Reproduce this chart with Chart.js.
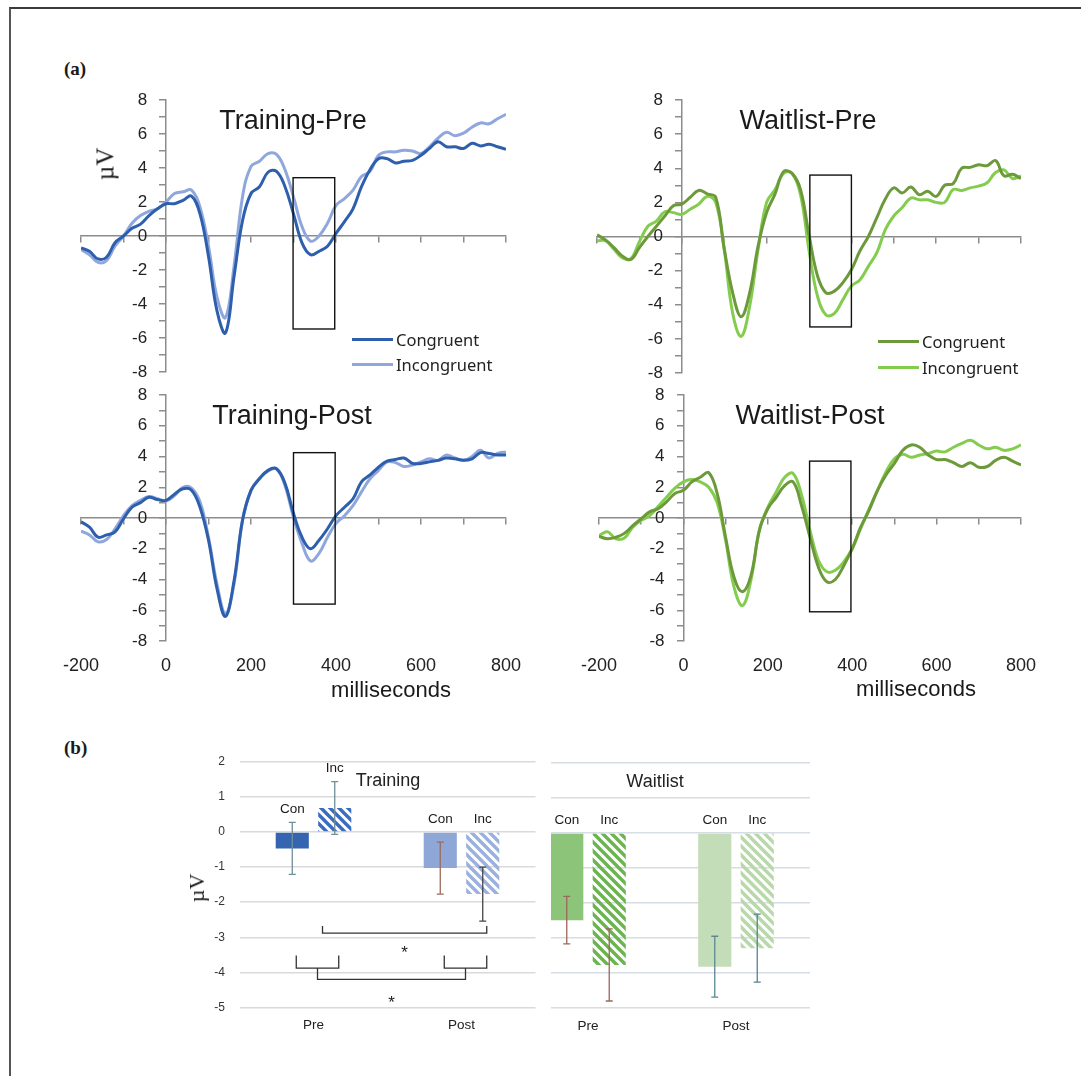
<!DOCTYPE html>
<html lang="en">
<head>
<meta charset="UTF-8">
<title>ERP congruency figure</title>
<script src="https://cdn.jsdelivr.net/npm/chart.js@4.4.0/dist/chart.umd.min.js"></script>
<style>
  body { margin: 0; background: #fff; }
  #page { position: relative; width: 1081px; height: 1076px; overflow: hidden; background: #fff;
          font-family: "Liberation Sans", Arial, sans-serif; color: #1a1a1a; }
  #frame { position: absolute; left: 9px; top: 7px; width: 1100px; height: 1100px;
           border-top: 2px solid #3a3a3a; border-left: 2px solid #555; }
  canvas { position: absolute; }
  .t { position: absolute; white-space: nowrap; line-height: 1; }
  .c { transform: translate(-50%, -50%); }
  .panel { font-size: 27px; transform: translateX(-50%); }
  .ms { font-size: 22px; transform: translateX(-50%); }
  .uv { font-family: "Liberation Serif", "Times New Roman", serif; transform: translate(-50%, -50%) rotate(-90deg); }
  .lbl { font-family: "Liberation Serif", "Times New Roman", serif; font-weight: bold; font-size: 19px; }
  .legend { position: absolute; font-family: "Noto Sans", sans-serif; font-size: 16.5px; color: #222; }
  .legend div { display: flex; align-items: center; height: 25px; }
  .legend span { display: inline-block; width: 41px; height: 3px; margin-right: 3px; }
  #waitClip { position: absolute; left: 551px; top: 740px; width: 270px; height: 300px; overflow: hidden; }
</style>
</head>
<body>
<div id="page">
  <div id="frame"></div>
  <div class="t lbl" style="left:64px; top:59px;">(a)</div>
  <div class="t lbl" style="left:64px; top:738px;">(b)</div>

  <canvas id="tPre" width="485" height="302" style="left:41px; top:85px;"></canvas>
  <canvas id="wPre" width="484" height="303" style="left:557px; top:85px;"></canvas>
  <canvas id="tPost" width="485" height="301" style="left:41px; top:380px;"></canvas>
  <canvas id="wPost" width="482" height="301" style="left:559px; top:380px;"></canvas>

  <div class="t panel" style="left:293px; top:107px;">Training-Pre</div>
  <div class="t panel" style="left:808px; top:107px;">Waitlist-Pre</div>
  <div class="t panel" style="left:292px; top:402px;">Training-Post</div>
  <div class="t panel" style="left:810px; top:402px;">Waitlist-Post</div>
  <div class="t uv" style="left:105px; top:164px; font-size:25px;">µV</div>
  <div class="t ms" style="left:391px; top:679px;">milliseconds</div>
  <div class="t ms" style="left:916px; top:678px;">milliseconds</div>

  <div class="legend" style="left:352px; top:327px;">
    <div><span style="background:#2e5fac"></span>Congruent</div>
    <div><span style="background:#8fa7dc"></span>Incongruent</div>
  </div>
  <div class="legend" style="left:878px; top:328px;">
    <div style="height:26px"><span style="background:#6c9a3a"></span>Congruent</div>
    <div style="height:26px"><span style="background:#84cc4e"></span>Incongruent</div>
  </div>

  <canvas id="trainBars" width="350" height="300" style="left:190px; top:740px;"></canvas>
  <div id="waitClip"><canvas id="waitBars" width="320" height="300" style="left:-51px; top:0;"></canvas></div>
  <div class="t uv" style="left:197px; top:888px; font-size:22px;">µV</div>
  <div class="t c" style="left:388px; top:780px; font-size:18px; color:#222;">Training</div>
  <div class="t c" style="left:655px; top:781px; font-size:18px; color:#222;">Waitlist</div>
</div>

<script>
// time axis (ms) and ERP amplitudes (µV)
const timeMs = [-200,-180,-160,-140,-120,-100,-80,-60,-40,-20,0,20,40,60,80,100,120,140,160,180,200,
  220,240,260,280,300,320,340,360,380,400,420,440,460,480,500,520,540,560,580,600,
  620,640,660,680,700,720,740,760,780,800];

const trainPreCon = [-0.7,-0.9,-1.35,-1.25,-0.4,0.0,0.45,0.7,1.2,1.6,1.9,
  1.9,2.1,2.35,1.3,-1.2,-4.4,-5.7,-2.4,0.9,2.5,
  2.9,3.75,3.8,2.9,1.3,-0.4,-1.1,-0.9,-0.6,0.15,
  0.85,1.6,2.9,3.9,4.55,4.55,4.3,4.4,4.45,4.75,
  5.15,5.55,5.25,5.25,5.15,5.45,5.3,5.4,5.25,5.1];
const trainPreInc = [-0.8,-1.1,-1.55,-1.45,-0.6,0.0,0.75,1.2,1.45,1.6,2.0,
  2.5,2.6,2.7,1.7,-0.6,-3.6,-4.8,-1.8,2.3,4.1,
  4.4,4.85,4.8,3.9,2.3,0.55,-0.3,0.0,0.75,1.8,
  2.2,2.7,3.5,3.8,4.75,4.95,4.95,5.05,5.0,4.85,
  5.25,5.75,6.1,5.9,6.05,6.4,6.65,6.6,6.9,7.15];

const waitPreCon = [0.1,-0.2,-0.65,-1.15,-1.35,-0.65,0.0,0.6,1.2,1.8,1.9,
  2.3,2.7,2.5,2.3,-0.7,-3.3,-4.7,-3.3,-0.55,1.4,
  2.5,3.8,3.7,2.75,0.1,-2.3,-3.3,-3.2,-2.7,-1.95,
  -0.85,0.0,1.1,2.2,2.85,2.55,2.9,2.45,2.65,2.35,
  3.0,3.1,4.0,4.05,4.2,4.15,4.45,3.55,3.65,3.4];
const waitPreInc = [-0.25,-0.25,-0.75,-1.25,-1.3,-0.3,0.6,0.9,1.45,1.4,1.3,
  1.6,1.9,2.35,2.0,-0.75,-4.5,-5.85,-4.1,-0.75,2.0,
  2.75,3.7,3.7,2.45,-0.8,-3.5,-4.6,-4.5,-3.7,-2.9,
  -2.55,-1.75,-0.95,0.4,1.2,1.7,2.25,2.15,2.15,2.0,
  2.0,2.75,2.7,2.85,2.95,3.15,3.75,3.9,3.4,3.55];

const trainPostCon = [-0.25,-0.6,-1.25,-1.1,-0.9,-0.05,0.7,1.0,1.35,1.2,1.15,
  1.55,1.9,1.8,0.7,-1.45,-4.6,-6.4,-4.1,-0.15,1.8,
  2.55,3.1,3.2,2.25,0.3,-1.25,-2.0,-1.45,-0.7,0.15,
  0.7,1.25,2.35,2.8,3.3,3.7,3.8,3.9,3.55,3.55,
  3.65,3.75,3.9,3.85,3.75,3.85,4.25,4.2,4.1,4.1];
const trainPostInc = [-0.85,-1.1,-1.55,-1.4,-0.7,0.15,0.8,1.15,1.4,1.25,1.1,
  1.45,2.0,1.95,1.05,-1.25,-4.3,-6.2,-4.3,-0.15,1.8,
  2.6,3.05,3.2,2.1,0.05,-1.65,-2.8,-2.3,-1.25,-0.35,
  0.15,0.8,1.7,2.55,3.1,3.65,3.6,3.35,3.45,3.65,
  3.85,3.75,4.1,3.9,3.75,4.0,4.4,3.9,4.2,4.3];

const waitPostCon = [-1.2,-1.35,-1.25,-1.0,-0.5,-0.05,0.4,0.6,1.05,1.6,1.8,
  2.35,2.65,2.95,1.6,-1.25,-3.85,-4.8,-3.75,-0.8,0.6,
  1.35,2.1,2.35,0.8,-1.25,-3.2,-4.15,-4.0,-3.1,-2.0,
  -0.6,0.5,1.8,2.8,3.55,4.4,4.75,4.6,4.1,3.8,
  3.8,3.6,3.35,3.6,3.3,3.35,3.75,3.95,3.7,3.45];
const waitPostInc = [-1.15,-0.9,-1.35,-1.3,-0.6,-0.15,0.15,0.75,1.35,1.95,2.35,
  2.5,2.35,2.0,1.0,-1.45,-4.5,-5.7,-4.05,-0.8,0.7,
  1.7,2.65,2.9,1.5,-0.8,-2.75,-3.5,-3.4,-2.85,-2.0,
  -0.7,0.6,1.8,3.0,3.85,4.15,3.95,4.1,4.2,4.35,
  4.3,4.6,4.85,5.05,4.75,4.5,4.6,4.4,4.5,4.75];

// analysis windows: [startMs, endMs, topµV, bottomµV]
const windowTrainPre = [299, 397, 3.43, -5.47];
const windowWaitPre = [302, 400, 3.6, -5.3];
const windowTrainPost = [300, 398, 4.25, -5.6];
const windowWaitPost = [299, 397, 3.7, -6.1];

// mean N2 amplitude 300-400 ms (part b) with error bars
const sessions = ['Pre', 'Post'];
const trainConMean = [-0.47, -1.03];
const trainIncMean = [0.68, -1.77];
const trainConErr = [0.74, 0.74];
const trainIncErr = [0.75, 0.77];
const waitConMean = [-2.49, -3.82];
const waitIncMean = [-3.77, -3.29];
const waitConErr = [0.68, 0.87];
const waitIncErr = [1.03, 0.97];

Chart.defaults.font.family = "'Liberation Sans', Arial, sans-serif";
Chart.defaults.color = '#222';

const axisGray = '#8c8c8c';

const windowPlugin = {
  id: 'erpWindow',
  afterDatasetsDraw(chart, args, opts) {
    const [t0, t1, top, bottom] = opts.rect;
    const {x, y} = chart.scales;
    const ctx = chart.ctx;
    ctx.save();
    ctx.strokeStyle = '#111';
    ctx.lineWidth = 1.4;
    ctx.strokeRect(x.getPixelForValue(t0), y.getPixelForValue(top),
      x.getPixelForValue(t1) - x.getPixelForValue(t0), y.getPixelForValue(bottom) - y.getPixelForValue(top));
    ctx.restore();
  }
};

function erpChart(id, con, inc, colors, rect, showX) {
  const line = (label, vals, color) => ({
    label, data: timeMs.map((t, i) => ({x: t, y: vals[i]})),
    borderColor: color, borderWidth: 3, pointRadius: 0, tension: 0.4, fill: false
  });
  const scales = {
    x: {
      type: 'linear', min: -200, max: 800, position: {y: 0},
      ticks: {display: false, stepSize: 100},
      grid: {drawOnChartArea: false, tickLength: 6, color: axisGray, lineWidth: 1.5},
      border: {color: axisGray, width: 1.5}
    },
    y: {
      min: -8, max: 8, position: {x: 0},
      ticks: {stepSize: 1, autoSkip: false, font: {size: 17}, color: '#222',
        callback: v => (v % 2 === 0 ? v + '    ' : '')},
      grid: {drawOnChartArea: false, tickLength: 6, color: axisGray, lineWidth: 1.5},
      border: {color: axisGray, width: 1.5}
    }
  };
  if (showX) {
    scales.xl = {
      type: 'linear', position: 'bottom', min: -200, max: 800,
      ticks: {stepSize: 200, font: {size: 18}, color: '#222', padding: 14},
      grid: {display: false, drawTicks: false},
      border: {display: false},
      afterFit: s => { s.height = 35; s.paddingLeft = 0; s.paddingRight = 0; }
    };
  }
  new Chart(document.getElementById(id), {
    type: 'line',
    data: {datasets: [line('Congruent', con, colors[0]), line('Incongruent', inc, colors[1])]},
    options: {
      responsive: false, animation: false,
      layout: {padding: {left: 40, right: 20, top: 15, bottom: showX ? 5 : 15}},
      plugins: {legend: {display: false}, tooltip: {enabled: false}, erpWindow: {rect}},
      scales
    },
    plugins: [windowPlugin]
  });
}

erpChart('tPre', trainPreCon, trainPreInc, ['#2e5fac', '#8fa7dc'], windowTrainPre, false);
erpChart('wPre', waitPreCon, waitPreInc, ['#6c9a3a', '#84cc4e'], windowWaitPre, false);
erpChart('tPost', trainPostCon, trainPostInc, ['#2e5fac', '#8fa7dc'], windowTrainPost, true);
erpChart('wPost', waitPostCon, waitPostInc, ['#6c9a3a', '#84cc4e'], windowWaitPost, true);

// hatched fill for the incongruent bars
function hatch(color) {
  const c = document.createElement('canvas');
  c.width = 9; c.height = 9;
  const g = c.getContext('2d');
  g.strokeStyle = color;
  g.lineWidth = 3.4;
  g.beginPath();
  g.moveTo(-3, -3); g.lineTo(12, 12);
  g.moveTo(-3, 6); g.lineTo(3, 12);
  g.moveTo(6, -3); g.lineTo(12, 3);
  g.stroke();
  return g.createPattern(c, 'repeat');
}

// error bars, Con/Inc labels and (training only) significance brackets
const barExtras = {
  id: 'barExtras',
  afterDatasetsDraw(chart, args, opts) {
    const ctx = chart.ctx;
    const y = chart.scales.y;
    const x = chart.scales.x;
    ctx.save();
    chart.data.datasets.forEach((ds, d) => {
      chart.getDatasetMeta(d).data.forEach((bar, i) => {
        const v = ds.data[i], e = opts.errors[d][i];
        const hi = y.getPixelForValue(v + e), lo = y.getPixelForValue(v - e);
        ctx.strokeStyle = opts.errColors[d][i];
        ctx.lineWidth = 1.3;
        ctx.beginPath();
        ctx.moveTo(bar.x, hi); ctx.lineTo(bar.x, lo);
        ctx.moveTo(bar.x - 3.5, hi); ctx.lineTo(bar.x + 3.5, hi);
        ctx.moveTo(bar.x - 3.5, lo); ctx.lineTo(bar.x + 3.5, lo);
        ctx.stroke();
        ctx.fillStyle = '#1a1a1a';
        ctx.font = "13.5px 'Liberation Sans', Arial, sans-serif";
        ctx.textAlign = 'center';
        ctx.textBaseline = 'middle';
        ctx.fillText(ds.label, bar.x, y.getPixelForValue(Math.max(0, v + e)) - 13);
      });
    });
    if (opts.brackets) {
      const con = chart.getDatasetMeta(0).data, inc = chart.getDatasetMeta(1).data;
      const py = v => y.getPixelForValue(v);
      ctx.strokeStyle = '#333';
      ctx.lineWidth = 1.3;
      ctx.beginPath();
      // interaction bracket: Pre vs Post Incongruent
      const a = x.getPixelForValue(0) + 9, b = inc[1].x + 4;
      ctx.moveTo(a, py(-2.68)); ctx.lineTo(a, py(-2.88)); ctx.lineTo(b, py(-2.88)); ctx.lineTo(b, py(-2.68));
      // session brackets
      const mids = [0, 1].map(i => {
        const l = con[i].x + 4, r = inc[i].x + 4;
        ctx.moveTo(l, py(-3.52)); ctx.lineTo(l, py(-3.88)); ctx.lineTo(r, py(-3.88)); ctx.lineTo(r, py(-3.52));
        return (l + r) / 2;
      });
      ctx.moveTo(mids[0], py(-3.88)); ctx.lineTo(mids[0], py(-4.2)); ctx.lineTo(mids[1], py(-4.2)); ctx.lineTo(mids[1], py(-3.88));
      ctx.stroke();
      ctx.fillStyle = '#222';
      ctx.font = "17px 'Liberation Sans', Arial, sans-serif";
      ctx.fillText('*', (a + b) / 2, py(-3.46));
      ctx.fillText('*', (mids[0] + mids[1]) / 2, py(-4.87));
    }
    ctx.restore();
  }
};

function barChart(id, conMean, incMean, conErr, incErr, conColors, incColors, errColors, showY, gridColor, pad, brackets) {
  const common = {categoryPercentage: 0.574, barPercentage: 0.78};
  new Chart(document.getElementById(id), {
    type: 'bar',
    data: {
      labels: sessions,
      datasets: [
        Object.assign({label: 'Con', data: conMean, backgroundColor: conColors}, common),
        Object.assign({label: 'Inc', data: incMean, backgroundColor: incColors}, common)
      ]
    },
    options: {
      responsive: false, animation: false,
      layout: {padding: pad},
      plugins: {
        legend: {display: false}, tooltip: {enabled: false},
        barExtras: {errors: [conErr, incErr], errColors, brackets}
      },
      scales: {
        x: {
          ticks: {font: {size: 13.5}, color: '#222', padding: 10},
          grid: {display: false, drawTicks: false},
          border: {display: false},
          afterFit: s => { s.height = 25; }
        },
        y: {
          min: -5, max: 2,
          ticks: {stepSize: 1, display: showY, font: {size: 12}, color: '#333', padding: 14.5},
          grid: {color: gridColor, lineWidth: 1.5, drawTicks: false},
          border: {display: false},
          afterFit: s => { s.width = showY ? 40 : 0; }
        }
      }
    },
    plugins: [barExtras]
  });
}

barChart('trainBars', trainConMean, trainIncMean, trainConErr, trainIncErr,
  ['#3565b0', '#8fa7d6'], [hatch('#3a6cc0'), hatch('#9ab0de')],
  [['#6f8f99', '#9a6c5e'], ['#6f8f99', '#444']],
  true, '#dadada', {left: 9.5, right: 4.5, top: 19, bottom: 7.5}, true);

barChart('waitBars', waitConMean, waitIncMean, waitConErr, waitIncErr,
  ['#8cc47a', '#c4ddb9'], [hatch('#6cb450'), hatch('#b8d8aa')],
  [['#a0645a', '#5f8792'], ['#a0645a', '#4f8494']],
  false, '#d6dde4', {left: 14, right: 10, top: 23, bottom: 7}, false);
</script>
</body>
</html>
